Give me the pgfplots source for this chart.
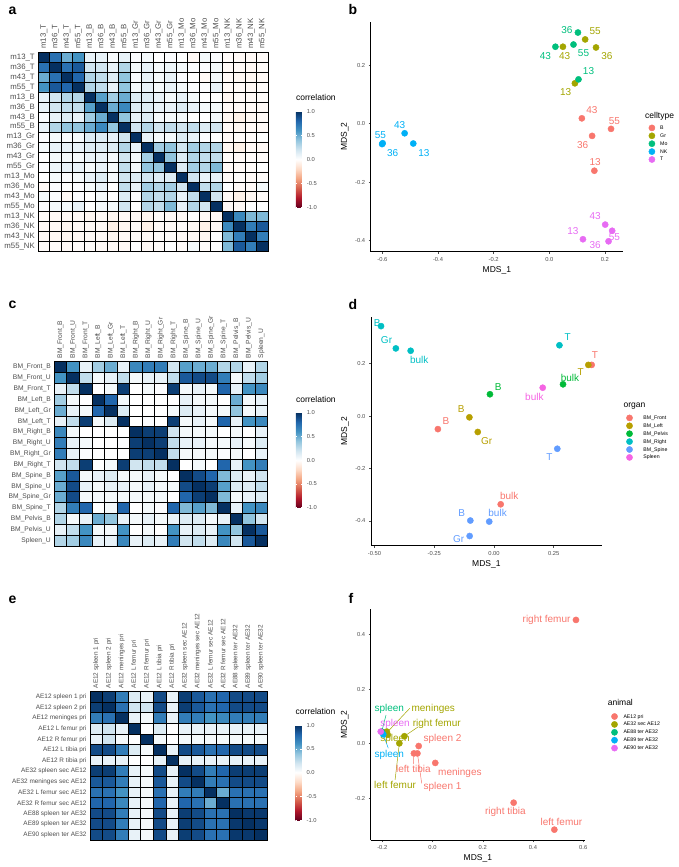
\documentclass[border=0pt]{standalone}
\usepackage{fontspec}
\setmainfont{Liberation Sans}
\usepackage{pgfplots}
\pgfplotsset{compat=1.18}
\definecolor{gray30}{HTML}{4D4D4D}
\definecolor{bB}{HTML}{F8766D}
\definecolor{bGr}{HTML}{A3A500}
\definecolor{bMo}{HTML}{00BF7D}
\definecolor{bNK}{HTML}{00B0F6}
\definecolor{bT}{HTML}{E76BF3}
\definecolor{dF}{HTML}{F8766D}
\definecolor{dL}{HTML}{B79F00}
\definecolor{dP}{HTML}{00BA38}
\definecolor{dR}{HTML}{00BFC4}
\definecolor{dS}{HTML}{619CFF}
\definecolor{dSp}{HTML}{F564E3}
\newcommand\ticklab{\fontsize{5.8}{6}\selectfont}
\newcommand\axtitle{\fontsize{8.5}{9}\selectfont}
\newcommand\ptlab{\fontsize{10}{11}\selectfont}
\newcommand\legfont{\fontsize{5.2}{6}\selectfont}
\newcommand\legtitle{\fontsize{8.5}{9}\selectfont}
\newcommand\panlab{\fontsize{14}{14}\selectfont\bfseries}
\pgfplotsset{
  colormap={rdbu}{rgb255=(103,0,31) rgb255=(178,24,43) rgb255=(214,96,77) rgb255=(244,165,130) rgb255=(253,219,199) rgb255=(255,255,255) rgb255=(209,229,240) rgb255=(146,197,222) rgb255=(67,147,195) rgb255=(33,102,172) rgb255=(5,48,97)},
}
\pgfplotsset{legend image code/.code={\draw[#1] plot coordinates {(0pt,0pt)};}}
\pgfplotsset{
  heat/.style={anchor=north west, scale only axis, enlargelimits=false, y dir=reverse,
    axis on top, xticklabel pos=right,
    major tick length=0pt, minor tick length=0pt,
    xminorgrids=true, yminorgrids=true,
    minor grid style={black, line width=0.8pt},
    axis line style={black, line width=0.8pt},
    xticklabel style={rotate=90, anchor=west, text=gray30},
    yticklabel style={text=gray30},
    point meta min=-1, point meta max=1, colorbar},
  cbar/.style n args={3}{colorbar style={at={(parent axis.north east)}, anchor=north west,
    xshift=#1, yshift=#2, scale only axis, width=6pt, height=#3,
    ytick={-1,-0.5,0,0.5,1}, yticklabels={-1.0,-0.5,0.0,0.5,1.0},
    yticklabel style={font=\ticklab, text=gray30, xshift=1.5pt},
    axis line style={draw=none}, tick align=inside, major tick length=1.3pt,
    major tick style={white, line width=0.5pt},
    title={correlation}, title style={font=\legtitle, at={(0,1)}, anchor=base west, inner sep=0pt, yshift=4.5pt}}},
  mds/.style={anchor=north west, scale only axis, clip=false,
    axis x line*=bottom, axis y line*=left,
    axis line style={line width=0.7pt, black, -},
    tick align=outside, major tick length=2pt,
    tick style={gray30, line width=0.5pt},
    tick label style={font=\ticklab, text=gray30},
    xlabel={MDS\_1}, ylabel={MDS\_2}, label style={font=\axtitle},
    x label style={at={(axis description cs:0.5,0)}, anchor=center, yshift=-18.5pt},
    y label style={at={(axis description cs:0,0.5)}, anchor=center, yshift=26pt},
    legend cell align=left,
    legend style={draw=none, fill=none, inner sep=0pt, font=\legfont, anchor=north west, row sep=0pt,
      nodes={inner sep=1.45pt, text height=4pt, text depth=1pt}}},
  pt/.style={only marks, mark=*, mark size=3.1pt, color=#1, mark options={draw=#1, fill=#1}},
  seg/.style={color=#1, line width=0.5pt, mark=none, forget plot},
}
\begin{document}
\begin{tikzpicture}
\useasboundingbox (0,0) rectangle (679pt,-867pt);
% panel labels
\node[anchor=base west, font=\panlab] at (5pt,-15pt) {a};
\node[anchor=base west, font=\panlab] at (345pt,-15pt) {b};
\node[anchor=base west, font=\panlab] at (5pt,-308pt) {c};
\node[anchor=base west, font=\panlab] at (345pt,-309pt) {d};
\node[anchor=base west, font=\panlab] at (5pt,-603pt) {e};
\node[anchor=base west, font=\panlab] at (345pt,-603pt) {f};

% ---------------- panel a ----------------
\begin{axis}[heat, at={(38.3pt,-52.3pt)}, width=230pt, height=199.4pt,
  xmin=-0.5, xmax=19.5, ymin=-0.5, ymax=19.5,
  xtick={0,...,19}, ytick={0,...,19},
  minor xtick={-0.5,0.5,...,19.5}, minor ytick={-0.5,0.5,...,19.5},
  tick label style={font=\fontsize{7.8}{8}\selectfont},
  xticklabels={m13\_T,m36\_T,m43\_T,m55\_T,m13\_B,m36\_B,m43\_B,m55\_B,m13\_Gr,m36\_Gr,m43\_Gr,m55\_Gr,m13\_Mo,m36\_Mo,m43\_Mo,m55\_Mo,m13\_NK,m36\_NK,m43\_NK,m55\_NK},
  yticklabels={m13\_T,m36\_T,m43\_T,m55\_T,m13\_B,m36\_B,m43\_B,m55\_B,m13\_Gr,m36\_Gr,m43\_Gr,m55\_Gr,m13\_Mo,m36\_Mo,m43\_Mo,m55\_Mo,m13\_NK,m36\_NK,m43\_NK,m55\_NK},
  cbar={19pt}{-59pt}{96pt}]
\addplot[matrix plot*, mesh/cols=20, point meta=explicit] table[row sep=\\, meta=c, x expr={\coordindex-20*floor((\coordindex+0.5)/20)}, y expr={floor((\coordindex+0.5)/20)}] {
c\\
1\\0.75\\0.5\\0.6\\0.1\\0.1\\0.03\\0.1\\0.02\\0.05\\0\\0.02\\0\\-0.03\\0.05\\0.02\\-0.02\\-0.03\\-0.03\\-0.02\\
0.75\\1\\0.75\\0.85\\0.2\\0.2\\0.1\\0.3\\0.05\\0.1\\0.05\\0.08\\0.05\\0.02\\0.02\\0.05\\-0.03\\-0.03\\-0.04\\-0.02\\
0.5\\0.75\\1\\0.8\\0.3\\0.25\\0.15\\0.4\\0.03\\0.1\\0.05\\0.1\\0.02\\0\\-0.03\\0.05\\-0.03\\-0.05\\-0.05\\-0.03\\
0.6\\0.85\\0.8\\1\\0.3\\0.25\\0.1\\0.4\\0.05\\0.1\\0.05\\0.1\\0.05\\0.02\\0.02\\0.1\\-0.03\\-0.03\\-0.04\\-0.02\\
0.1\\0.2\\0.3\\0.3\\1\\0.55\\0.35\\0.5\\0.15\\0.15\\0.1\\0.05\\0.1\\0.05\\0\\0\\-0.05\\-0.03\\-0.03\\-0.02\\
0.1\\0.2\\0.25\\0.25\\0.55\\1\\0.5\\0.65\\0.15\\0.15\\0.1\\0.1\\0.15\\0.1\\0.05\\0.05\\-0.03\\-0.03\\-0.03\\-0.03\\
0.03\\0.1\\0.15\\0.1\\0.35\\0.5\\1\\0.4\\0.1\\0.15\\0.05\\0.05\\0.05\\0\\0\\0.05\\-0.05\\-0.08\\-0.05\\-0.03\\
0.1\\0.3\\0.4\\0.4\\0.5\\0.65\\0.4\\1\\0.2\\0.3\\0.2\\0.25\\0.2\\0.25\\0.15\\0.2\\-0.03\\-0.05\\-0.03\\-0.03\\
0.02\\0.05\\0.03\\0.05\\0.15\\0.15\\0.1\\0.2\\1\\0.1\\0.05\\0.05\\0.15\\0.1\\0.02\\0\\-0.03\\-0.02\\-0.02\\0\\
0.05\\0.1\\0.1\\0.1\\0.15\\0.15\\0.15\\0.3\\0.1\\1\\0.35\\0.4\\0.2\\0.35\\0.3\\0.3\\-0.05\\-0.08\\-0.03\\-0.03\\
0\\0.05\\0.05\\0.05\\0.1\\0.1\\0.05\\0.2\\0.05\\0.35\\1\\0.4\\0.15\\0.3\\0.25\\0.25\\-0.02\\-0.03\\-0.02\\-0.02\\
0.02\\0.08\\0.1\\0.1\\0.05\\0.1\\0.05\\0.25\\0.05\\0.4\\0.4\\1\\0.15\\0.35\\0.3\\0.45\\-0.03\\-0.03\\-0.02\\0\\
0\\0.05\\0.02\\0.05\\0.1\\0.15\\0.05\\0.2\\0.15\\0.2\\0.15\\0.15\\1\\0.2\\0.1\\0.1\\-0.03\\-0.02\\-0.03\\-0.02\\
-0.03\\0.02\\0\\0.02\\0.05\\0.1\\0\\0.25\\0.1\\0.35\\0.3\\0.35\\0.2\\1\\0.25\\0.3\\0\\-0.03\\-0.03\\0.05\\
0.05\\0.02\\-0.03\\0.02\\0\\0.05\\0\\0.15\\0.02\\0.3\\0.25\\0.3\\0.1\\0.25\\1\\0.2\\-0.03\\-0.08\\-0.05\\-0.02\\
0.02\\0.05\\0.05\\0.1\\0\\0.05\\0.05\\0.2\\0\\0.3\\0.25\\0.45\\0.1\\0.3\\0.2\\1\\-0.03\\-0.03\\0\\0\\
-0.02\\-0.03\\-0.03\\-0.03\\-0.05\\-0.03\\-0.05\\-0.03\\-0.03\\-0.05\\-0.02\\-0.03\\-0.03\\0\\-0.03\\-0.03\\1\\0.65\\0.45\\0.45\\
-0.03\\-0.03\\-0.05\\-0.03\\-0.03\\-0.03\\-0.08\\-0.05\\-0.02\\-0.08\\-0.03\\-0.03\\-0.02\\-0.03\\-0.08\\-0.03\\0.65\\1\\0.7\\0.85\\
-0.03\\-0.04\\-0.05\\-0.04\\-0.03\\-0.03\\-0.05\\-0.03\\-0.02\\-0.03\\-0.02\\-0.02\\-0.03\\-0.03\\-0.05\\0\\0.45\\0.7\\1\\0.7\\
-0.02\\-0.02\\-0.03\\-0.02\\-0.02\\-0.03\\-0.03\\-0.03\\0\\-0.03\\-0.02\\0\\-0.02\\0.05\\-0.02\\0\\0.45\\0.85\\0.7\\1\\
};
\end{axis}

% ---------------- panel c ----------------
\begin{axis}[heat, at={(54.3pt,-361.7pt)}, width=213.4pt, height=184.3pt,
  xmin=-0.5, xmax=16.5, ymin=-0.5, ymax=16.5,
  xtick={0,...,16}, ytick={0,...,16},
  minor xtick={-0.5,0.5,...,16.5}, minor ytick={-0.5,0.5,...,16.5},
  tick label style={font=\fontsize{6.7}{7}\selectfont},
  xticklabels={BM\_Front\_B,BM\_Front\_U,BM\_Front\_T,BM\_Left\_B,BM\_Left\_Gr,BM\_Left\_T,BM\_Right\_B,BM\_Right\_U,BM\_Right\_Gr,BM\_Right\_T,BM\_Spine\_B,BM\_Spine\_U,BM\_Spine\_Gr,BM\_Spine\_T,BM\_Pelvis\_B,BM\_Pelvis\_U,Spleen\_U},
  yticklabels={BM\_Front\_B,BM\_Front\_U,BM\_Front\_T,BM\_Left\_B,BM\_Left\_Gr,BM\_Left\_T,BM\_Right\_B,BM\_Right\_U,BM\_Right\_Gr,BM\_Right\_T,BM\_Spine\_B,BM\_Spine\_U,BM\_Spine\_Gr,BM\_Spine\_T,BM\_Pelvis\_B,BM\_Pelvis\_U,Spleen\_U},
  cbar={19.6pt}{-51pt}{95pt}]
\addplot[matrix plot*, mesh/cols=17, point meta=explicit] table[row sep=\\, meta=c, x expr={\coordindex-17*floor((\coordindex+0.5)/17)}, y expr={floor((\coordindex+0.5)/17)}] {
c\\
1\\0.6\\0.1\\0.35\\0.5\\0.1\\0.65\\0.7\\0.7\\0.2\\0.55\\0.5\\0.5\\0.3\\0.3\\0.1\\0.3\\
0.6\\1\\0.25\\0.05\\0.1\\0.25\\0.05\\0.1\\0.1\\0.25\\0.85\\0.9\\0.9\\0.7\\0.05\\0.25\\0.35\\
0.1\\0.25\\1\\0\\0.05\\0.95\\0\\0.05\\0.02\\0.95\\0.05\\0.1\\0.05\\0.8\\0.1\\0.6\\0.65\\
0.35\\0.05\\0\\1\\0.8\\0.05\\0\\0\\0\\0\\0.1\\0.05\\0.05\\0\\0.5\\0.05\\0.1\\
0.5\\0.1\\0.05\\0.8\\1\\0.15\\0\\0\\0\\0.05\\0.15\\0.1\\0.05\\0.05\\0.4\\0.05\\0.1\\
0.1\\0.25\\0.95\\0.05\\0.15\\1\\0\\0.02\\0\\0.95\\0.05\\0.1\\0.05\\0.8\\0.1\\0.6\\0.65\\
0.65\\0.05\\0\\0\\0\\0\\1\\0.95\\0.95\\0.2\\0.05\\0.05\\0.05\\0\\0.05\\0\\0.1\\
0.7\\0.1\\0.05\\0\\0\\0.02\\0.95\\1\\0.95\\0.25\\0.1\\0.1\\0.05\\0.05\\0.1\\0.05\\0.15\\
0.7\\0.1\\0.02\\0\\0\\0\\0.95\\0.95\\1\\0.25\\0.05\\0.05\\0.05\\0.02\\0.05\\0\\0.1\\
0.2\\0.25\\0.95\\0\\0.05\\0.95\\0.2\\0.25\\0.25\\1\\0\\0.05\\0\\0.8\\0.1\\0.6\\0.7\\
0.55\\0.85\\0.05\\0.1\\0.15\\0.05\\0.05\\0.1\\0.05\\0\\1\\0.9\\0.8\\0.45\\0.15\\0.1\\0.2\\
0.5\\0.9\\0.1\\0.05\\0.1\\0.1\\0.05\\0.1\\0.05\\0.05\\0.9\\1\\0.95\\0.55\\0.15\\0.15\\0.25\\
0.5\\0.9\\0.05\\0.05\\0.05\\0.05\\0.05\\0.05\\0.05\\0\\0.8\\0.95\\1\\0.45\\0.05\\0.1\\0.15\\
0.3\\0.7\\0.8\\0\\0.05\\0.8\\0\\0.05\\0.02\\0.8\\0.45\\0.55\\0.45\\1\\0.1\\0.6\\0.65\\
0.3\\0.05\\0.1\\0.5\\0.4\\0.1\\0.05\\0.1\\0.05\\0.1\\0.15\\0.15\\0.05\\0.1\\1\\0.4\\0.2\\
0.1\\0.25\\0.6\\0.05\\0.05\\0.6\\0\\0.05\\0\\0.6\\0.1\\0.15\\0.1\\0.6\\0.4\\1\\0.85\\
0.3\\0.35\\0.65\\0.1\\0.1\\0.65\\0.1\\0.15\\0.1\\0.7\\0.2\\0.25\\0.15\\0.65\\0.2\\0.85\\1\\
};
\end{axis}

% ---------------- panel e ----------------
\begin{axis}[heat, at={(90pt,-691.7pt)}, width=177.3pt, height=148.3pt,
  xmin=-0.5, xmax=13.5, ymin=-0.5, ymax=13.5,
  xtick={0,...,13}, ytick={0,...,13},
  minor xtick={-0.5,0.5,...,13.5}, minor ytick={-0.5,0.5,...,13.5},
  tick label style={font=\fontsize{6.4}{7}\selectfont},
  xticklabels={AE12 spleen 1 pri,AE12 spleen 2 pri,AE12 meninges pri,AE12 L femur pri,AE12 R femur pri,AE12 L tibia pri,AE12 R tibia pri,AE32 spleen sec AE12,AE32 meninges sec AE12,AE32 L femur sec AE12,AE32 R femur sec AE12,AE88 spleen ter AE32,AE89 spleen ter AE32,AE90 spleen ter AE32},
  yticklabels={AE12 spleen 1 pri,AE12 spleen 2 pri,AE12 meninges pri,AE12 L femur pri,AE12 R femur pri,AE12 L tibia pri,AE12 R tibia pri,AE32 spleen sec AE12,AE32 meninges sec AE12,AE32 L femur sec AE12,AE32 R femur sec AE12,AE88 spleen ter AE32,AE89 spleen ter AE32,AE90 spleen ter AE32},
  cbar={19.7pt}{-33.3pt}{95pt}]
\addplot[matrix plot*, mesh/cols=14, point meta=explicit] table[row sep=\\, meta=c, x expr={\coordindex-14*floor((\coordindex+0.5)/14)}, y expr={floor((\coordindex+0.5)/14)}] {
c\\
1\\0.95\\0.7\\0.15\\0.1\\0.9\\0.1\\0.95\\0.85\\0.75\\0.8\\0.9\\0.9\\0.9\\
0.95\\1\\0.75\\0.2\\0.2\\0.9\\0.1\\0.95\\0.85\\0.75\\0.8\\0.9\\0.9\\0.9\\
0.7\\0.75\\1\\0.1\\0.05\\0.7\\0.1\\0.7\\0.7\\0.6\\0.65\\0.7\\0.7\\0.7\\
0.15\\0.2\\0.1\\1\\0\\0.15\\0\\0.1\\0.1\\0.1\\0.1\\0.1\\0.1\\0.1\\
0.1\\0.2\\0.05\\0\\1\\0.05\\0\\0.05\\0.05\\0.05\\0.05\\0.05\\0.05\\0.05\\
0.9\\0.9\\0.7\\0.15\\0.05\\1\\0.1\\0.9\\0.85\\0.75\\0.8\\0.9\\0.9\\0.9\\
0.1\\0.1\\0.1\\0\\0\\0.1\\1\\0.1\\0.1\\0.1\\0.1\\0.1\\0.1\\0.1\\
0.95\\0.95\\0.7\\0.1\\0.05\\0.9\\0.1\\1\\0.9\\0.7\\0.8\\0.95\\0.95\\0.95\\
0.85\\0.85\\0.7\\0.1\\0.05\\0.85\\0.1\\0.9\\1\\0.7\\0.75\\0.9\\0.9\\0.9\\
0.75\\0.75\\0.6\\0.1\\0.05\\0.75\\0.1\\0.7\\0.7\\1\\0.5\\0.75\\0.75\\0.75\\
0.8\\0.8\\0.65\\0.1\\0.05\\0.8\\0.1\\0.8\\0.75\\0.5\\1\\0.75\\0.75\\0.75\\
0.9\\0.9\\0.7\\0.1\\0.05\\0.9\\0.1\\0.95\\0.9\\0.75\\0.75\\1\\0.97\\0.97\\
0.9\\0.9\\0.7\\0.1\\0.05\\0.9\\0.1\\0.95\\0.9\\0.75\\0.75\\0.97\\1\\0.97\\
0.9\\0.9\\0.7\\0.1\\0.05\\0.9\\0.1\\0.95\\0.9\\0.75\\0.75\\0.97\\0.97\\1\\
};
\end{axis}

% ---------------- panel b ----------------
\begin{axis}[mds, at={(370.7pt,-21.7pt)}, width=252.3pt, height=230pt,
  xmin=-0.642, xmax=0.265, ymin=-0.4375, ymax=0.348,
  xtick={-0.6,-0.4,-0.2,0,0.2}, xticklabels={-0.6,-0.4,-0.2,0.0,0.2},
  ytick={-0.4,-0.2,0,0.2}, yticklabels={-0.4,-0.2,0.0,0.2},
  legend style={at={(1.1015,0.5563)}, /tikz/every odd column/.append style={column sep=3.75pt}}]
\addplot[pt=bB] coordinates {(0.117,0.018)(0.222,-0.018)(0.154,-0.042)(0.162,-0.161)};
\addlegendentry{B}
\addplot[pt=bGr] coordinates {(0.129,0.2875)(0.049,0.2625)(0.168,0.260)(0.092,0.1375)};
\addlegendentry{Gr}
\addplot[pt=bMo] coordinates {(0.103,0.311)(0.022,0.2625)(0.087,0.270)(0.105,0.151)};
\addlegendentry{Mo}
\addplot[pt=bNK] coordinates {(-0.599,-0.067)(-0.601,-0.070)(-0.520,-0.033)(-0.489,-0.068)};
\addlegendentry{NK}
\addplot[pt=bT] coordinates {(0.201,-0.345)(0.226,-0.366)(0.121,-0.395)(0.213,-0.402)};
\addlegendentry{T}
\node[text=bNK, font=\ptlab] at (axis cs:-0.607,-0.039) {55};
\node[text=bNK, font=\ptlab] at (axis cs:-0.538,-0.005) {43};
\node[text=bNK, font=\ptlab] at (axis cs:-0.563,-0.101) {36};
\node[text=bNK, font=\ptlab] at (axis cs:-0.451,-0.101) {13};
\node[text=bMo, font=\ptlab] at (axis cs:0.063,0.319) {36};
\node[text=bMo, font=\ptlab] at (axis cs:-0.014,0.231) {43};
\node[text=bMo, font=\ptlab] at (axis cs:0.123,0.240) {55};
\node[text=bMo, font=\ptlab] at (axis cs:0.141,0.181) {13};
\node[text=bGr, font=\ptlab] at (axis cs:0.165,0.317) {55};
\node[text=bGr, font=\ptlab] at (axis cs:0.055,0.231) {43};
\node[text=bGr, font=\ptlab] at (axis cs:0.207,0.231) {36};
\node[text=bGr, font=\ptlab] at (axis cs:0.059,0.107) {13};
\node[text=bB, font=\ptlab] at (axis cs:0.153,0.047) {43};
\node[text=bB, font=\ptlab] at (axis cs:0.234,0.010) {55};
\node[text=bB, font=\ptlab] at (axis cs:0.120,-0.073) {36};
\node[text=bB, font=\ptlab] at (axis cs:0.165,-0.133) {13};
\node[text=bT, font=\ptlab] at (axis cs:0.165,-0.317) {43};
\node[text=bT, font=\ptlab] at (axis cs:0.234,-0.389) {55};
\node[text=bT, font=\ptlab] at (axis cs:0.085,-0.366) {13};
\node[text=bT, font=\ptlab] at (axis cs:0.165,-0.416) {36};
\end{axis}
\node[anchor=west, font=\legtitle] at (641.7pt,-116pt) {celltype};

% ---------------- panel d ----------------
\begin{axis}[mds, at={(371pt,-316.7pt)}, width=230.7pt, height=229pt,
  xmin=-0.515, xmax=0.451, ymin=-0.495, ymax=0.379,
  xtick={-0.5,-0.25,0,0.25}, xticklabels={-0.50,-0.25,0.00,0.25},
  ytick={-0.4,-0.2,0,0.2}, yticklabels={-0.4,-0.2,0.0,0.2},
  legend style={at={(1.1062,0.5762)}, /tikz/every odd column/.append style={column sep=9.4pt}}]
\addplot[pt=dF] coordinates {(0.409,0.195)(-0.235,-0.050)(0.028,-0.337)};
\addlegendentry{BM\_Front}
\addplot[pt=dL] coordinates {(0.395,0.195)(-0.103,-0.005)(-0.068,-0.061)};
\addlegendentry{BM\_Left}
\addplot[pt=dP] coordinates {(0.289,0.121)(-0.017,0.083)};
\addlegendentry{BM\_Pelvis}
\addplot[pt=dR] coordinates {(-0.473,0.343)(-0.411,0.258)(-0.349,0.249)(0.274,0.270)};
\addlegendentry{BM\_Right}
\addplot[pt=dS] coordinates {(0.265,-0.125)(-0.099,-0.399)(-0.020,-0.403)(-0.102,-0.458)};
\addlegendentry{BM\_Spine}
\addplot[pt=dSp] coordinates {(0.204,0.108)};
\addlegendentry{Spleen}
\node[text=dR, font=\ptlab] at (axis cs:-0.489,0.353) {B};
\node[text=dR, font=\ptlab] at (axis cs:-0.450,0.290) {Gr};
\node[text=dR, font=\ptlab] at (axis cs:-0.313,0.214) {bulk};
\node[text=dR, font=\ptlab] at (axis cs:0.309,0.300) {T};
\node[text=dF, font=\ptlab] at (axis cs:0.423,0.233) {T};
\node[text=dF, font=\ptlab] at (axis cs:-0.201,-0.018) {B};
\node[text=dF, font=\ptlab] at (axis cs:0.064,-0.304) {bulk};
\node[text=dL, font=\ptlab] at (axis cs:0.363,0.169) {T};
\node[text=dL, font=\ptlab] at (axis cs:-0.137,0.027) {B};
\node[text=dL, font=\ptlab] at (axis cs:-0.031,-0.097) {Gr};
\node[text=dP, font=\ptlab] at (axis cs:0.318,0.147) {bulk};
\node[text=dP, font=\ptlab] at (axis cs:0.018,0.112) {B};
\node[text=dS, font=\ptlab] at (axis cs:0.232,-0.155) {T};
\node[text=dS, font=\ptlab] at (axis cs:-0.135,-0.369) {B};
\node[text=dS, font=\ptlab] at (axis cs:0.015,-0.371) {bulk};
\node[text=dS, font=\ptlab] at (axis cs:-0.148,-0.469) {Gr};
\node[text=dSp, font=\ptlab] at (axis cs:0.169,0.071) {bulk};
\end{axis}
\node[anchor=west, font=\legtitle] at (620pt,-406pt) {organ};

% ---------------- panel f ----------------
\begin{axis}[mds, at={(370.7pt,-609.3pt)}, width=214.3pt, height=230.7pt,
  xmin=-0.246, xmax=0.607, ymin=-0.354, ymax=0.493,
  xtick={-0.2,0,0.2,0.4,0.6}, xticklabels={-0.2,0.0,0.2,0.4,0.6},
  ytick={-0.2,0,0.2,0.4}, yticklabels={-0.2,0.0,0.2,0.4},
  legend style={at={(1.1223,0.5533)}, /tikz/every odd column/.append style={column sep=4.45pt}}]
\addplot[seg=bB] coordinates {(-0.060,-0.036)(-0.043,-0.146)};
\addplot[seg=bB] coordinates {(-0.074,-0.036)(-0.076,-0.075)};
\addplot[seg=bGr] coordinates {(-0.178,0.044)(-0.090,0.130)};
\addplot[seg=bGr] coordinates {(-0.112,0.027)(-0.056,0.062)};
\addplot[seg=bGr] coordinates {(-0.132,0.001)(-0.149,-0.133)};
\addplot[seg=bMo] coordinates {(-0.202,0.044)(-0.185,0.105)};
\addplot[seg=bNK] coordinates {(-0.196,0.034)(-0.176,-0.017)};
\addplot[pt=bB] coordinates {(0.571,0.454)(-0.055,-0.009)(-0.074,-0.036)(-0.060,-0.036)(0.011,-0.071)(0.323,-0.217)(0.485,-0.316)};
\addlegendentry{AE12 pri}
\addplot[pt=bGr] coordinates {(-0.182,0.044)(-0.178,0.032)(-0.112,0.027)(-0.132,0.001)};
\addlegendentry{AE32 sec AE12}
\addplot[pt=bMo] coordinates {(-0.202,0.044)};
\addlegendentry{AE88 ter AE32}
\addplot[pt=bNK] coordinates {(-0.196,0.034)};
\addlegendentry{AE89 ter AE32}
\addplot[pt=bT] coordinates {(-0.206,0.044)};
\addlegendentry{AE90 ter AE32}
\node[text=bB, font=\ptlab] at (axis cs:0.454,0.454) {right femur};
\node[text=bB, font=\ptlab] at (axis cs:0.040,0.017) {spleen 2};
\node[text=bB, font=\ptlab] at (axis cs:-0.076,-0.093) {left tibia};
\node[text=bB, font=\ptlab] at (axis cs:0.040,-0.160) {spleen 1};
\node[text=bB, font=\ptlab] at (axis cs:0.109,-0.107) {meninges};
\node[text=bB, font=\ptlab] at (axis cs:0.290,-0.252) {right tibia};
\node[text=bB, font=\ptlab] at (axis cs:0.513,-0.287) {left femur};
\node[text=bGr, font=\ptlab] at (axis cs:0.003,0.127) {meninges};
\node[text=bGr, font=\ptlab] at (axis cs:0.017,0.073) {right femur};
\node[text=bGr, font=\ptlab] at (axis cs:-0.149,0.017) {spleen};
\node[text=bGr, font=\ptlab] at (axis cs:-0.149,-0.152) {left femur};
\node[text=bMo, font=\ptlab] at (axis cs:-0.172,0.127) {spleen};
\node[text=bNK, font=\ptlab] at (axis cs:-0.172,-0.042) {spleen};
\node[text=bT, font=\ptlab] at (axis cs:-0.149,0.072) {spleen};
\end{axis}
\node[anchor=west, font=\legtitle] at (604.3pt,-702.7pt) {animal};
\end{tikzpicture}
\end{document}
